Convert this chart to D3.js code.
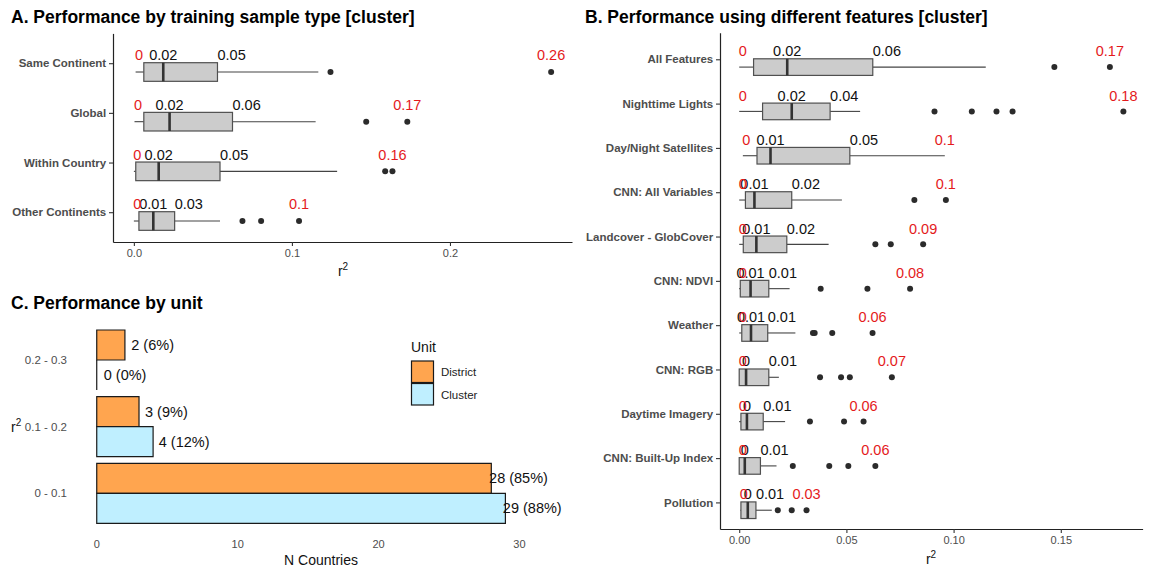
<!DOCTYPE html>
<html><head><meta charset="utf-8">
<script src="https://cdn.jsdelivr.net/npm/d3@7"></script>
<style>
body{margin:0;background:#fff;}
svg{display:block;font-family:"Liberation Sans",Arial,Helvetica,sans-serif;}
</style></head><body>
<svg id="chart" width="1154" height="568"></svg>
<script>
// ---------- Panel A data ----------
const catsA = ["Same Continent","Global","Within Country","Other Continents"];
const minA  = [0.0011, 0.0004, 0.0000, 0.0000];
const q1A   = [0.0063, 0.0063, 0.0012, 0.0032];
const medA  = [0.0186, 0.0226, 0.0157, 0.0123];
const q3A   = [0.0529, 0.0624, 0.0545, 0.0258];
const hiA   = [0.1167, 0.1150, 0.1286, 0.0545];
const outA  = [[0.1244, 0.264],[0.147, 0.173],[0.159, 0.1636],[0.0687, 0.0805, 0.1045]];
const ticksA = [0, 0.1, 0.2];

// ---------- Panel B data ----------
const catsB = ["All Features","Nighttime Lights","Day/Night Satellites","CNN: All Variables",
  "Landcover - GlobCover","CNN: NDVI","Weather","CNN: RGB","Daytime Imagery","CNN: Built-Up Index","Pollution"];
const minB = [0, 0, 0.0017, 0, 0, 0, 0, 0, 0, 0, 0.0005];
const q1B  = [0.0067, 0.0109, 0.0083, 0.0029, 0.0019, 0.0005, 0.0012, 0, 0.0008, 0, 0.0008];
const medB = [0.0224, 0.0245, 0.0146, 0.0071, 0.0080, 0.0053, 0.0055, 0.0032, 0.0036, 0.0026, 0.0040];
const q3B  = [0.0623, 0.0424, 0.0516, 0.0245, 0.0222, 0.0138, 0.0133, 0.0138, 0.0112, 0.0099, 0.0078];
const hiB  = [0.1150, 0.0564, 0.0959, 0.0479, 0.0417, 0.0235, 0.0262, 0.0185, 0.0214, 0.0174, 0.0152];
const outB = [[0.147, 0.1729],[0.0911, 0.1085, 0.120, 0.1275, 0.1792],[],[0.0817, 0.0964],
  [0.0635, 0.0707, 0.0858],[0.038, 0.0598, 0.0797],[0.0344, 0.0352, 0.0434, 0.0622],
  [0.0377, 0.0475, 0.0516, 0.0712],[0.033, 0.0489, 0.058],[0.025, 0.042, 0.0509, 0.0635],[0.018, 0.0245, 0.0314]];
const ticksB = [0, 0.05, 0.10, 0.15];

// ---------- Panel C data ----------
const catsC = ["0.2 - 0.3","0.1 - 0.2","0 - 0.1"];
const units = ["District","Cluster"];
const districtN = [2, 3, 28];
const clusterN  = [0, 4, 29];
const ticksC = [0, 10, 20, 30];
const unitColors = ["#FFA54F","#BFEFFF"];

const RED = "#E41A1C";
const svg = d3.select("#chart");
const fmt2 = v => String(+v.toFixed(2));

function boxPanel(cats, mins, q1s, meds, q3s, his, outs, x, y, tickFmt, tickVals) {
  const g = svg.append("g");
  const step = y.step();
  const bh = step * 0.375;
  cats.forEach((c, i) => {
    const top = y(c) - 0.5, cy = top + bh / 2;
    // whiskers
    g.append("line").attr("x1", x(mins[i])).attr("x2", x(q1s[i])).attr("y1", cy).attr("y2", cy)
      .attr("stroke", "#444").attr("stroke-width", 1.1);
    g.append("line").attr("x1", x(q3s[i])).attr("x2", x(his[i])).attr("y1", cy).attr("y2", cy)
      .attr("stroke", "#444").attr("stroke-width", 1.1);
    // box
    g.append("rect").attr("x", x(q1s[i])).attr("y", top).attr("width", x(q3s[i]) - x(q1s[i])).attr("height", bh)
      .attr("fill", "#CCCCCC").attr("stroke", "#505050").attr("stroke-width", 1.2);
    // median
    g.append("line").attr("x1", x(meds[i])).attr("x2", x(meds[i])).attr("y1", top).attr("y2", top + bh)
      .attr("stroke", "#333").attr("stroke-width", 2.6);
    // outliers
    outs[i].forEach(o => g.append("circle").attr("cx", x(o)).attr("cy", cy).attr("r", 3).attr("fill", "#2b2b2b"));
    // labels
    const mx = outs[i].length ? d3.max(outs[i]) : his[i];
    const ly = y(c) - 3;
    g.append("text").attr("x", x(meds[i])).attr("y", ly).attr("text-anchor", "middle")
      .attr("font-size", 14.5).attr("fill", "#111").text(fmt2(meds[i]));
    g.append("text").attr("x", x(q3s[i])).attr("y", ly).attr("text-anchor", "start")
      .attr("font-size", 14.5).attr("fill", "#111").text(fmt2(q3s[i]));
    g.append("text").attr("x", x(mins[i]) - 0.5).attr("y", ly).attr("text-anchor", "start")
      .attr("font-size", 14.5).attr("fill", RED).text(fmt2(mins[i]));
    g.append("text").attr("x", x(mx)).attr("y", ly).attr("text-anchor", "middle")
      .attr("font-size", 14.5).attr("fill", RED).text(fmt2(mx));
  });
  // axes
  const r = y.range(), xr = x.range();
  const ya = svg.append("g").attr("transform", `translate(${xr[0]},0)`)
    .call(d3.axisLeft(y).tickSize(4).tickSizeOuter(0).tickPadding(2.8));
  ya.select(".domain").attr("stroke", "#222").attr("stroke-width", 1.2);
  ya.selectAll(".tick line").attr("stroke", "#333").attr("stroke-width", 1.1);
  ya.selectAll(".tick text").attr("font-size", 11.5).attr("font-weight", "bold").attr("fill", "#4d4d4d")
    .attr("font-family", "Liberation Sans, Arial, sans-serif");
  const xa = svg.append("g").attr("transform", `translate(0,${r[1]})`)
    .call(d3.axisBottom(x).tickValues(tickVals).tickFormat(tickFmt).tickSize(4).tickSizeOuter(0).tickPadding(3.5));
  xa.select(".domain").attr("stroke", "#222").attr("stroke-width", 1.2);
  xa.selectAll(".tick line").attr("stroke", "#333").attr("stroke-width", 1.1);
  xa.selectAll(".tick text").attr("font-size", 11).attr("fill", "#4d4d4d")
    .attr("font-family", "Liberation Sans, Arial, sans-serif");
}

function r2Label(cx, by) {
  const t = svg.append("text").attr("x", cx).attr("y", by).attr("text-anchor", "middle")
    .attr("font-size", 14).attr("fill", "#111");
  t.append("tspan").text("r");
  t.append("tspan").attr("font-size", 10).attr("dy", -6).text("2");
  return t;
}

// ---------- Panel A ----------
const allA = minA.concat(hiA, outA.flat());
const extA = [0, d3.max(allA)];
const padA = (extA[1] - extA[0]) * 0.05;
const xA = d3.scaleLinear().domain([extA[0] - padA, extA[1] + padA]).range([113, 572]);
const yA = d3.scalePoint().domain(catsA).range([33.4, 242]).padding(0.6);
boxPanel(catsA, minA, q1A, medA, q3A, hiA, outA, xA, yA, d3.format(".1f"), ticksA);
svg.append("text").attr("x", 11).attr("y", 23).attr("font-size", 17.5).attr("font-weight", "bold")
  .attr("fill", "#000").text("A. Performance by training sample type [cluster]");
r2Label(343, 276);

// ---------- Panel B ----------
const allB = minB.concat(hiB, outB.flat());
const extB = [0, d3.max(allB)];
const padB = (extB[1] - extB[0]) * 0.05;
const xB = d3.scaleLinear().domain([extB[0] - padB, extB[1] + padB]).range([720, 1142.6]);
const yB = d3.scalePoint().domain(catsB).range([32.7, 529]).padding(0.6);
boxPanel(catsB, minB, q1B, medB, q3B, hiB, outB, xB, yB, d3.format(".2f"), ticksB);
svg.append("text").attr("x", 585).attr("y", 23).attr("font-size", 17.5).attr("font-weight", "bold")
  .attr("fill", "#000").text("B. Performance using different features [cluster]");
r2Label(931, 564);

// ---------- Panel C ----------
svg.append("text").attr("x", 11).attr("y", 309).attr("font-size", 17.5).attr("font-weight", "bold")
  .attr("fill", "#000").text("C. Performance by unit");
const xC = d3.scaleLinear().domain([-1.45, 33.3]).range([76.3, 566]);
const yC = d3.scalePoint().domain(catsC).range([320, 533.3]).padding(0.6);
const stepC = yC.step();
const bw = stepC * 0.45;
const gC = svg.append("g");
const totals = [d3.sum(districtN), d3.sum(clusterN)];
[districtN, clusterN].forEach((arr, u) => {
  arr.forEach((n, i) => {
    const y0 = yC(catsC[i]) - bw + u * bw, y1 = y0 + bw;
    const x0 = xC(0), x1 = xC(n);
    gC.append("path").attr("d", `M${x0},${y0}H${x1}V${y1}H${x0}Z`)
      .attr("fill", unitColors[u]).attr("stroke", "#1a1a1a").attr("stroke-width", 1.2);
    const pct = Math.round(n / totals[u] * 100);
    gC.append("text").attr("x", x1 + 7 - 0.33 * n).attr("y", (y0 + y1) / 2).attr("dy", "0.35em")
      .attr("font-size", 14.5).attr("fill", "#111").text(`${n} (${pct}%)`);
  });
});
// y tick labels
catsC.forEach(c => {
  svg.append("text").attr("x", 67).attr("y", yC(c)).attr("dy", "0.35em").attr("text-anchor", "end")
    .attr("font-size", 11.5).attr("fill", "#4d4d4d").text(c);
});
// x tick labels
ticksC.forEach(t => {
  svg.append("text").attr("x", xC(t)).attr("y", 548).attr("text-anchor", "middle")
    .attr("font-size", 11).attr("fill", "#4d4d4d").text(t);
});
svg.append("text").attr("x", 321).attr("y", 565).attr("text-anchor", "middle")
  .attr("font-size", 14).attr("fill", "#111").text("N Countries");
{
  const t = svg.append("text").attr("x", 11).attr("y", 432).attr("font-size", 14).attr("fill", "#111");
  t.append("tspan").text("r");
  t.append("tspan").attr("font-size", 10).attr("dy", -6).text("2");
}
// legend
svg.append("text").attr("x", 411).attr("y", 352).attr("font-size", 14).attr("fill", "#111").text("Unit");
units.forEach((u, i) => {
  svg.append("rect").attr("x", 411.5).attr("y", 361 + i * 22.5).attr("width", 22).attr("height", 21.5)
    .attr("fill", unitColors[i]).attr("stroke", "#1a1a1a").attr("stroke-width", 1.2);
  svg.append("text").attr("x", 441).attr("y", 372 + i * 22.5).attr("dy", "0.35em")
    .attr("font-size", 11.5).attr("fill", "#222").text(u);
});
</script>
</body></html>
